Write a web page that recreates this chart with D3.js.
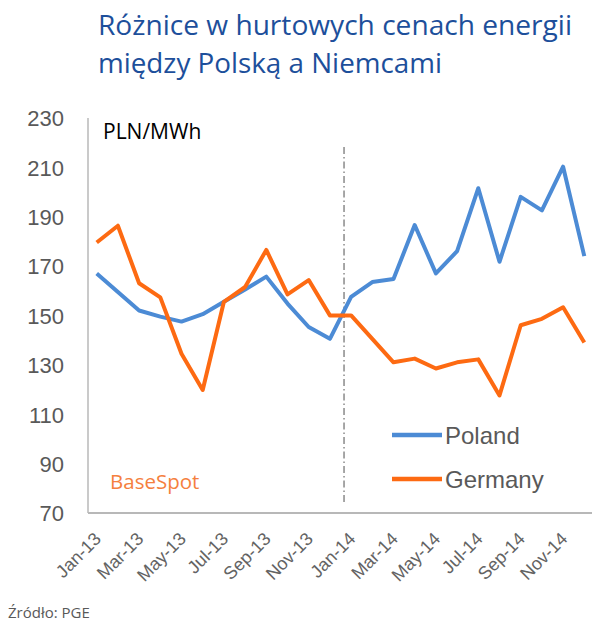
<!DOCTYPE html>
<html><head><meta charset="utf-8">
<script src="https://cdn.jsdelivr.net/npm/d3@7"></script>
<style>body{margin:0;background:#fff}svg{display:block}</style>
</head><body>
<svg id="c" width="595" height="636"></svg>
<script>
const months = ["Jan-13","Feb-13","Mar-13","Apr-13","May-13","Jun-13","Jul-13","Aug-13","Sep-13","Oct-13","Nov-13","Dec-13",
                "Jan-14","Feb-14","Mar-14","Apr-14","May-14","Jun-14","Jul-14","Aug-14","Sep-14","Oct-14","Nov-14","Dec-14"];
const tickLabels = ["Jan-13","Mar-13","May-13","Jul-13","Sep-13","Nov-13","Jan-14","Mar-14","May-14","Jul-14","Sep-14","Nov-14"];
const poland  = [167,159.5,152,149.5,147.5,150.5,155.5,160.5,165.7,154.8,145.3,140.5,157.5,163.5,164.7,186.6,167,176,201.5,171.7,198,192.5,210.2,174];
const germany = [179.5,186.3,163,157.3,134.5,119.8,155.5,161.5,176.5,158.5,164.3,150,150,140.5,131,132.5,128.5,131,132.2,117.6,146,148.6,153.3,139];
const yTicks = [70,90,110,130,150,170,190,210,230];
const seriesNames = ["Poland","Germany"];
const colors = ["#4c8bd5","#fd6a12"];

const svg = d3.select("#c");
const x = d3.scalePoint().domain(months).range([96.7, 584.3]);
const y = d3.scaleLinear().domain([70,230]).range([513, 117.8]);
const step = x.step();

// Title
const title = svg.append("g").attr("fill","#1d4f9b").style("font-family","'Open Sans', sans-serif").style("font-size","28px");
title.append("text").attr("x",98).attr("y",35).attr("textLength",474).attr("lengthAdjust","spacingAndGlyphs").text("Różnice w hurtowych cenach energii");
title.append("text").attr("x",98).attr("y",73).attr("textLength",344).attr("lengthAdjust","spacingAndGlyphs").text("między Polską a Niemcami");

// Y axis labels
const ya = svg.append("g").attr("transform","translate(64,0)")
  .call(d3.axisLeft(y).tickValues(yTicks).tickSize(0).tickPadding(0).tickFormat(d3.format("d")));
ya.select(".domain").remove();
ya.selectAll("text").attr("fill","#595959").style("font-family","'Liberation Sans', Arial, sans-serif").style("font-size","22px").attr("dy","0.36em");

// Axis lines
svg.append("line").attr("x1",88).attr("x2",88).attr("y1",118).attr("y2",y(70)).attr("stroke","#b8b8b8").attr("stroke-width",1.5);
svg.append("line").attr("x1",88).attr("x2",592).attr("y1",y(70)).attr("y2",y(70)).attr("stroke","#b8b8b8").attr("stroke-width",2);

// X labels
const xa = svg.append("g").attr("transform",`translate(0,${y(70)})`)
  .call(d3.axisBottom(x).tickValues(tickLabels).tickSize(0).tickPadding(0));
xa.select(".domain").remove();
xa.selectAll("text").attr("fill","#636363").style("font-family","'Liberation Sans', Arial, sans-serif").style("font-size","18px")
  .attr("text-anchor","end").attr("dy",null).attr("y",0)
  .attr("transform","translate(5,27) rotate(-45)");

// Dash-dot separator
svg.append("line").attr("x1",x("Jan-14")-step/3).attr("x2",x("Jan-14")-step/3).attr("y1",147).attr("y2",503)
  .attr("stroke","#8a8a8a").attr("stroke-width",1.5).attr("stroke-dasharray","7,3,1.5,3");

// Lines
const line = d3.line().x((d,i)=>x(months[i])).y(d=>y(d));
[poland, germany].forEach((s,k)=>{
  svg.append("path").datum(s).attr("d",line).attr("fill","none").attr("stroke",colors[k]).attr("stroke-width",4).attr("stroke-linejoin","round");
});

// Annotations
svg.append("text").attr("x",103).attr("y",139).attr("fill","#000").style("font-family","'Open Sans', sans-serif").style("font-size","21px").text("PLN/MWh");
svg.append("text").attr("x",110).attr("y",489).attr("fill","#f5803e").style("font-family","'Open Sans', sans-serif").style("font-size","20.5px").text("BaseSpot");

// Legend
const lg = svg.append("g");
seriesNames.forEach((n,k)=>{
  const ly = 435 + k*44;
  lg.append("line").attr("x1",392).attr("x2",442).attr("y1",ly).attr("y2",ly).attr("stroke",colors[k]).attr("stroke-width",4.5);
  lg.append("text").attr("x",445).attr("y",ly).attr("dy","0.36em").attr("fill","#595959")
    .style("font-family","'Liberation Sans', Arial, sans-serif").style("font-size","24px").text(n);
});

// Source
svg.append("text").attr("x",8).attr("y",618).attr("fill","#595959").style("font-family","'Open Sans', sans-serif").style("font-size","15px").text("Źródło: PGE");
</script>
</body></html>
